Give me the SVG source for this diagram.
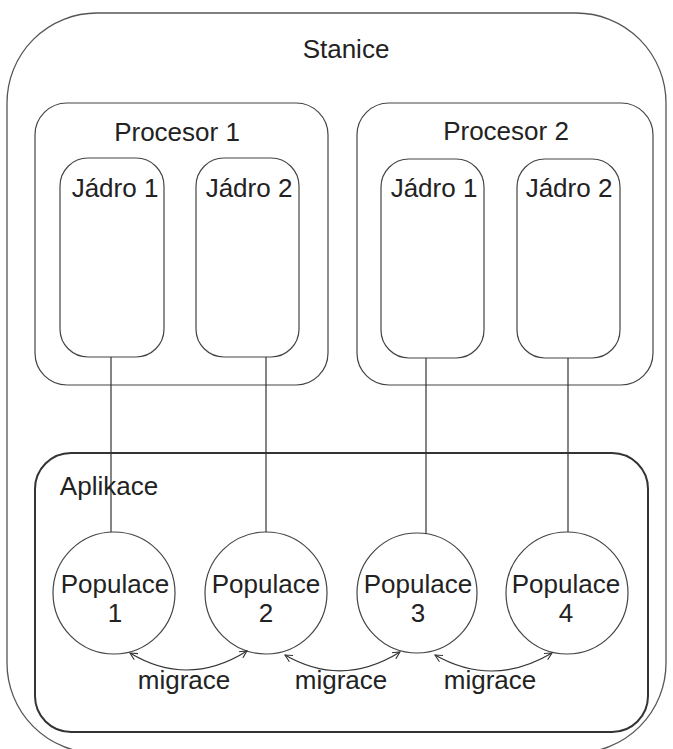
<svg xmlns="http://www.w3.org/2000/svg" width="673" height="749" viewBox="0 0 673 749">
<defs>
<marker id="arr" viewBox="0 0 10 10" refX="9" refY="5" markerWidth="9" markerHeight="9" markerUnits="userSpaceOnUse" orient="auto-start-reverse">
<path d="M1,1 L9,5 L1,9" fill="none" stroke="#333" stroke-width="1.2"/>
</marker>
</defs>
<style>
.box{fill:#fff;stroke:#444;stroke-width:1.2}
.app{fill:none;stroke:#333;stroke-width:2}
.outer{fill:#fff;stroke:#555;stroke-width:1.3}
.pop{fill:#fff;stroke:#444;stroke-width:1.2}
.line{stroke:#333;stroke-width:1.2;fill:none}
.mig{stroke:#333;stroke-width:1.2;fill:none;marker-start:url(#arr);marker-end:url(#arr)}
text{font-family:"Liberation Sans",Arial,sans-serif;font-size:26px;fill:#222;text-anchor:middle}
</style>
<rect width="673" height="749" fill="#fff"/>
<g id="stanice">
<rect class="outer" x="7" y="13" width="659" height="740" rx="90" ry="90"/>
<text x="346" y="58">Stanice</text>
</g>
<g id="procesor1">
<rect class="box" x="35" y="103" width="293" height="282" rx="32" ry="32"/>
<text x="177" y="141">Procesor 1</text>
</g>
<g id="p1-jadro1">
<rect class="box" x="60" y="158" width="104" height="199" rx="28" ry="28"/>
<text x="115" y="197">Jádro 1</text>
</g>
<g id="p1-jadro2">
<rect class="box" x="196" y="158" width="103" height="199" rx="28" ry="28"/>
<text x="249" y="197">Jádro 2</text>
</g>
<g id="procesor2">
<rect class="box" x="357" y="103" width="296" height="282" rx="32" ry="32"/>
<text x="506" y="140">Procesor 2</text>
</g>
<g id="p2-jadro1">
<rect class="box" x="381" y="159" width="103" height="199" rx="28" ry="28"/>
<text x="434" y="197">Jádro 1</text>
</g>
<g id="p2-jadro2">
<rect class="box" x="517" y="159" width="103" height="199" rx="28" ry="28"/>
<text x="569" y="197">Jádro 2</text>
</g>
<g id="aplikace">
<rect class="app" x="35" y="453" width="613" height="279" rx="36" ry="36"/>
<text x="109" y="495">Aplikace</text>
</g>
<g id="populace1">
<circle class="pop" cx="114" cy="593" r="61"/>
<text x="115" y="593">Populace</text>
<text x="115" y="622">1</text>
</g>
<g id="populace2">
<circle class="pop" cx="266" cy="593" r="61"/>
<text x="266" y="593">Populace</text>
<text x="266" y="622">2</text>
</g>
<g id="populace3">
<circle class="pop" cx="417" cy="593" r="60"/>
<text x="418" y="593">Populace</text>
<text x="418" y="622">3</text>
</g>
<g id="populace4">
<circle class="pop" cx="567" cy="593" r="61"/>
<text x="566" y="593">Populace</text>
<text x="566" y="622">4</text>
</g>
<g id="connectors">
<line class="line" x1="111" y1="357" x2="111" y2="532"/>
<line class="line" x1="266" y1="357" x2="266" y2="532"/>
<line class="line" x1="426" y1="358" x2="426" y2="534"/>
<line class="line" x1="568" y1="358" x2="568" y2="532"/>
<path class="mig" d="M130,653 Q188,688 247,651"/>
<path class="mig" d="M285,655 Q342,688 400,652"/>
<path class="mig" d="M435,655 Q493,688 552,653"/>
<text x="184" y="689">migrace</text>
<text x="341" y="689">migrace</text>
<text x="490" y="689">migrace</text>
</g>
</svg>
